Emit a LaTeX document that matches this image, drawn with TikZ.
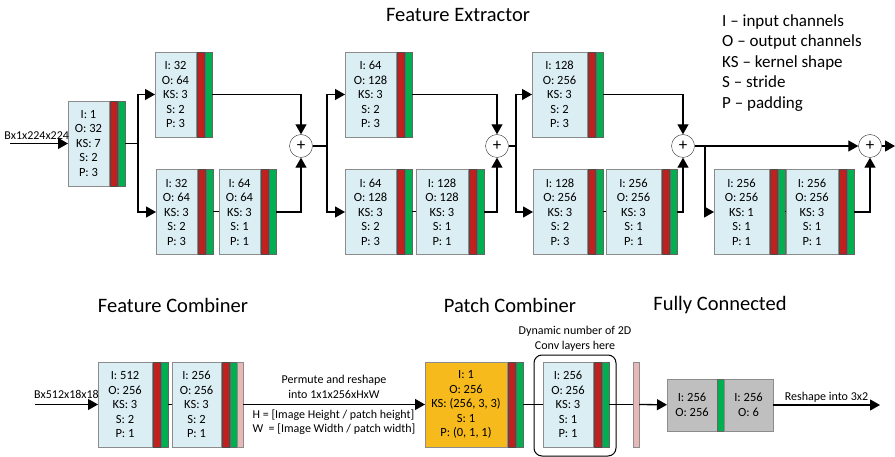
\documentclass[tikz,border=0pt]{standalone}
\usepackage{fontspec}
\setmainfont{Carlito}
\usetikzlibrary{positioning, arrows.meta}
\definecolor{boxblue}{HTML}{DBEEF4}
\definecolor{boxline}{HTML}{8C8C8C}
\definecolor{relured}{HTML}{C0211F}
\definecolor{bngreen}{HTML}{00B050}
\definecolor{poolpink}{HTML}{E6B9B8}
\definecolor{pcgold}{HTML}{F6BA1C}
\definecolor{fcgray}{HTML}{BFBFBF}

\begin{document}
\begin{tikzpicture}[x=1pt, y=-1pt,
    font=\fontsize{12}{14.5}\selectfont,
    conv/.style={draw=boxline, fill=boxblue, minimum height=85pt, inner sep=0pt, outer sep=0pt, align=center, font=\fontsize{12.5}{14.5}\selectfont},
    relu/.style={draw=black!70, fill=relured, minimum width=7pt, minimum height=85pt, inner sep=0pt, outer sep=0pt},
    bn/.style={relu, draw=black!60, fill=bngreen},
    pool/.style={relu, draw=boxline, fill=poolpink, minimum width=6pt},
    fcbox/.style={draw=boxline, fill=fcgray, minimum height=52pt, inner sep=0pt, outer sep=0pt, align=center, font=\fontsize{12.5}{14.5}\selectfont},
    sum/.style={circle, draw=black!80, fill=white, minimum size=23pt, inner sep=0pt, font=\fontsize{17}{17}\selectfont},
    heading/.style={font=\fontsize{20.5}{24}\selectfont},
    wire/.style={line width=1.3pt},
    link/.style={line width=1pt},
    arr/.style={line width=1.3pt, -{Triangle[length=10pt,width=11pt]}}
  ]
    \useasboundingbox (0,0) rectangle (895,457);

    % conv blocks: name / left x / centre y / width / I / O / KS / S / P
    \foreach \n/\x/\y/\w/\i/\o/\k/\s/\p in {
        stem/68/143.5/41/1/32/7/2/3,
        a1/155/94.5/41/32/64/3/2/3,
        b1/156/212/41/32/64/3/2/3,
        b2/219/212/41/64/64/3/1/1,
        a2/345/94.5/51/64/128/3/2/3,
        c1/345/212/51/64/128/3/2/3,
        c2/416/212/52/128/128/3/1/1,
        a3/532/94.5/55/128/256/3/2/3,
        d1/533/212/54/128/256/3/2/3,
        d2/606/212/55/256/256/3/1/1,
        e1/714/212/55/256/256/1/1/1,
        e2/786/212/52/256/256/3/1/1,
        f1/98/404.5/54/512/256/3/2/1,
        f2/172/404.5/49/256/256/3/2/1,
        cv/543/404.5/50/256/256/3/1/1}
    {
      \node[conv, minimum width=\w pt, anchor=west] (\n) at (\x,\y) {I: \i\\O: \o\\KS: \k\\S: \s\\P: \p};
      \node[relu, right=1pt of \n] (\n-r) {};
      \node[bn, right=1pt of \n-r] (\n-g) {};
    }
    \node[pool, right=0pt of f2-g] (f2-p) {};

    \node[conv, fill=pcgold, minimum width=82pt, anchor=west] (pc) at (425,404.5) {I: 1\\O: 256\\KS: (256, 3, 3)\\S: 1\\P: (0, 1, 1)};
    \node[relu, right=1pt of pc] (pc-r) {};
    \node[bn, right=1pt of pc-r] (pc-g) {};

    \node[draw, line width=1pt, rounded corners=8pt, minimum width=82pt, minimum height=101pt] (dyn) at (575,405.5) {};
    \node[pool, anchor=west] (pool) at (633,404.5) {};

    \node[fcbox, minimum width=50pt, anchor=west] (fcA) at (667,405) {I: 256\\O: 256};
    \node[bn, minimum height=52pt, right=0pt of fcA] (fcA-g) {};
    \node[fcbox, minimum width=49pt, right=0pt of fcA-g] (fcB) {I: 256\\O: 6};

    \node[sum] (s1) at (301,146) {+};
    \node[sum] (s2) at (497,146) {+};
    \node[sum] (s3) at (683,146) {+};
    \node[sum] (s4) at (870,146) {+};

    \coordinate (inA) at (10,143.5);
    \coordinate (br1) at (138,143.5);
    \coordinate (br2) at (327,146);
    \coordinate (br3) at (516,146);
    \coordinate (br4) at (705,146);
    \coordinate (outA) at (895,146);
    \coordinate (inB) at (35,404.5);
    \coordinate (outB) at (880,405);

    % feature extractor
    \draw[arr] (inA) -- (stem) node[pos=0.46, above, inner sep=3pt] (inAlab) {Bx1x224x224};
    \draw[wire] (stem-g) -- (br1);
    \draw[arr] (br1) |- (a1);
    \draw[arr] (br1) |- (b1);
    \draw[link] (b1-g) -- (b2);
    \draw[arr] (a1-g) -| (s1);
    \draw[arr] (b2-g) -| (s1);

    \draw[wire] (s1) -- (br2);
    \draw[arr] (br2) |- (a2);
    \draw[arr] (br2) |- (c1);
    \draw[link] (c1-g) -- (c2);
    \draw[arr] (a2-g) -| (s2);
    \draw[arr] (c2-g) -| (s2);

    \draw[wire] (s2) -- (br3);
    \draw[arr] (br3) |- (a3);
    \draw[arr] (br3) |- (d1);
    \draw[link] (d1-g) -- (d2);
    \draw[arr] (a3-g) -| (s3);
    \draw[arr] (d2-g) -| (s3);

    \draw[arr] (s3) -- (s4);
    \draw[arr] (br4) |- (e1);
    \draw[link] (e1-g) -- (e2);
    \draw[arr] (e2-g) -| (s4);
    \draw[arr] (s4) -- (outA);

    % combiners and fully connected
    \draw[arr] (inB) -- (f1) node[midway, above, inner sep=5pt] (inBlab) {Bx512x18x18};
    \draw[link] (f1-g) -- (f2);
    \draw[arr] (f2-p) -- (pc)
      node[midway, above=2pt, align=center] (permute) {Permute and reshape\\into 1x1x256xHxW}
      node[midway, below=1pt, align=left] (hw) {H = [Image Height / patch height]\\W\ \ = [Image Width / patch width]};
    \draw[link] (pc-g) -- (cv);
    \draw[link] (cv-g) -- (pool);
    \draw[arr] (pool) -- (fcA);
    \draw[arr] (fcB) -- (outB) node[midway, above, inner sep=2pt] (reshape) {Reshape into 3x2};

    \node[align=center, above=0pt of dyn] (dynlab) {Dynamic number of 2D\\Conv layers here};

    \node[heading] (fext) at (458,15) {Feature Extractor};
    \node[heading] (fcomb) at (173,305) {Feature Combiner};
    \node[heading] (pcomb) at (510,305) {Patch Combiner};
    \node[heading] (fconn) at (720,305) {Fully Connected};

    \node[anchor=north west, align=left, inner sep=0pt, font=\fontsize{17}{20.5}\selectfont] (legend) at (722,14)
      {I – input channels\\O – output channels\\KS – kernel shape\\S – stride\\P – padding};
\end{tikzpicture}
\end{document}
